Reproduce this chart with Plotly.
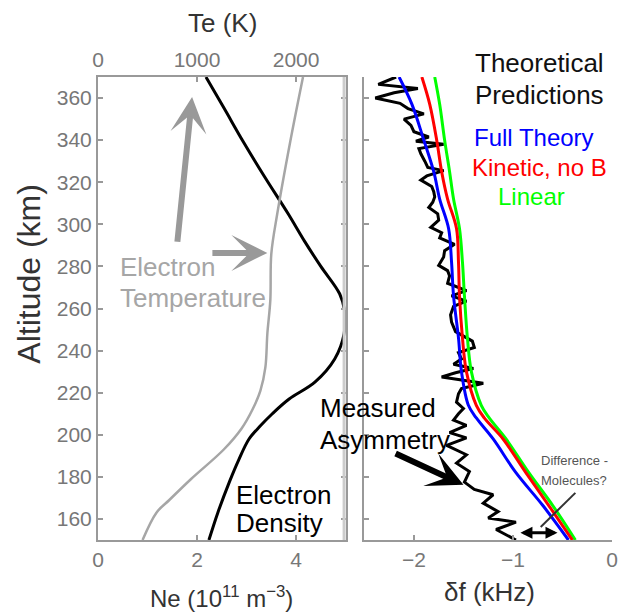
import plotly.graph_objects as go

# ---- Electron density profile (left panel, bottom axis) ----
ne_alt = [370, 355, 339, 322, 305, 292, 280, 267, 259, 248, 236, 225, 217, 210, 204, 198, 188, 178, 163, 150]
ne_val = [2.18, 2.55, 2.94, 3.38, 3.84, 4.17, 4.50, 4.88, 4.98, 4.97, 4.78, 4.38, 3.86, 3.52, 3.27, 3.05, 2.84, 2.66, 2.42, 2.24]

# ---- Electron temperature profile (left panel, top axis) ----
te_alt = [370, 339, 305, 286, 264, 248, 232, 221, 212, 203, 193, 179, 169, 163, 150]
te_val = [2070, 1940, 1810, 1750, 1740, 1710, 1690, 1640, 1560, 1450, 1270, 940, 720, 590, 450]

# ---- Theoretical predictions of the frequency asymmetry (right panel) ----
th_alt = [370, 357, 340, 325, 312, 298, 282, 266, 246, 230, 214, 208, 198, 182, 166.5, 150]
full_theory = [-2.15, -2.02, -1.90, -1.80, -1.74, -1.65, -1.62, -1.60, -1.55, -1.52, -1.45, -1.37, -1.20, -0.97, -0.70, -0.44]
kinetic_no_b = [-1.92, -1.84, -1.77, -1.72, -1.66, -1.57, -1.55, -1.54, -1.51, -1.47, -1.37, -1.29, -1.10, -0.87, -0.64, -0.40]
linear = [-1.79, -1.74, -1.69, -1.64, -1.60, -1.54, -1.51, -1.49, -1.46, -1.42, -1.32, -1.24, -1.07, -0.84, -0.60, -0.37]

# ---- Measured asymmetry ----
meas_alt = [370.0, 368.5, 366.5, 364.5, 362.5, 360.0, 357.5, 355.0, 352.5, 350.0, 347.0, 344.0,
            341.5, 339.5, 338.0, 336.0, 333.5, 330.0, 327.0, 325.5, 323.0, 321.0, 318.0, 315.5,
            313.0, 310.5, 308.0, 305.0, 302.0, 298.5, 296.0, 293.5, 290.5, 287.5, 284.5, 280.5,
            278.0, 275.5, 272.0, 268.5, 266.0, 263.5, 261.0, 257.0, 253.5, 249.0, 244.5, 241.5,
            239.0, 236.0, 233.5, 231.5, 229.5, 227.5, 224.5, 222.0, 219.5, 215.5, 212.5, 210.0,
            207.0, 204.5, 201.0, 198.5, 195.0, 190.5, 186.5, 182.5, 177.5, 174.0, 171.5, 167.5,
            163.5, 160.5, 158.5, 155.0, 151.5, 150.0]
meas_val = [-2.18, -2.26, -2.36, -1.96, -2.20, -2.39, -2.14, -2.06, -1.90, -2.10, -2.03, -2.00,
            -1.85, -1.98, -1.70, -1.95, -1.93, -1.89, -1.86, -1.70, -1.87, -1.93, -1.82, -1.80,
            -1.79, -1.81, -1.85, -1.76, -1.75, -1.83, -1.72, -1.74, -1.59, -1.69, -1.70, -1.75,
            -1.66, -1.64, -1.66, -1.47, -1.62, -1.47, -1.60, -1.63, -1.62, -1.58, -1.41, -1.39,
            -1.55, -1.52, -1.60, -1.40, -1.58, -1.72, -1.30, -1.52, -1.55, -1.57, -1.50, -1.55,
            -1.60, -1.47, -1.64, -1.47, -1.67, -1.47, -1.57, -1.44, -1.49, -1.39, -1.20, -1.30,
            -1.15, -1.25, -0.97, -1.17, -1.04, -0.97]

alt_ticks = [160, 180, 200, 220, 240, 260, 280, 300, 320, 340, 360]
ne_ticks = [0, 2, 4]
te_ticks = [0, 1000, 2000]
df_ticks = [-2, -1, 0]

FONT = "Liberation Sans, Arial, sans-serif"
AXIS_GRAY = "#999999"
TICK_TXT = "#777777"
W, H = 630, 615
ML, MR, MT, MB = 98, 13, 77, 75
PW, PH = W - ML - MR, H - MT - MB


def px(xp):
    return (xp - ML) / PW


def py(yp):
    return (H - MB - yp) / PH


fig = go.Figure()

fig.add_trace(go.Scatter(x=te_val, y=te_alt, xaxis="x3", yaxis="y", mode="lines",
                         line=dict(color="#a6a6a6", width=2.5, shape="spline"), showlegend=False))
fig.add_trace(go.Scatter(x=ne_val, y=ne_alt, xaxis="x", yaxis="y", mode="lines",
                         line=dict(color="black", width=3, shape="spline"), showlegend=False))

fig.add_trace(go.Scatter(x=meas_val, y=meas_alt, xaxis="x2", yaxis="y2", mode="lines",
                         line=dict(color="black", width=3), showlegend=False))
fig.add_trace(go.Scatter(x=linear, y=th_alt, xaxis="x2", yaxis="y2", mode="lines",
                         line=dict(color="#00ff00", width=3, shape="spline"), showlegend=False))
fig.add_trace(go.Scatter(x=kinetic_no_b, y=th_alt, xaxis="x2", yaxis="y2", mode="lines",
                         line=dict(color="#ff0000", width=3, shape="spline"), showlegend=False))
fig.add_trace(go.Scatter(x=full_theory, y=th_alt, xaxis="x2", yaxis="y2", mode="lines",
                         line=dict(color="#0000ff", width=3, shape="spline"), showlegend=False))

axis_common = dict(ticks="inside", ticklen=5, tickwidth=1.5, tickcolor=AXIS_GRAY,
                   showline=True, linecolor=AXIS_GRAY, linewidth=2, showgrid=False,
                   zeroline=False, tickfont=dict(family=FONT, size=21, color=TICK_TXT))

left_dom = [0, 250 / PW]
right_dom = [269 / PW, 1]

fig.update_layout(
    width=W, height=H,
    margin=dict(l=ML, r=MR, t=MT, b=MB),
    paper_bgcolor="white", plot_bgcolor="white",
    font=dict(family=FONT),
    xaxis=dict(domain=left_dom, range=[0, 5], anchor="y", tickvals=ne_ticks, **axis_common),
    xaxis3=dict(overlaying="x", side="top", range=[0, 2500], anchor="y", tickvals=te_ticks,
                **axis_common),
    yaxis=dict(domain=[0, 1], range=[150, 370], anchor="x", tickvals=alt_ticks,
               mirror="ticks", **axis_common),
    xaxis2=dict(domain=right_dom, range=[-2.5, 0], anchor="y2", tickvals=df_ticks, **axis_common),
    yaxis2=dict(domain=[0, 1], range=[150, 370], anchor="x2", tickvals=alt_ticks,
                showticklabels=False, **axis_common),
)

# light grey right border of the profile panel
fig.add_shape(type="line", xref="x", yref="y", x0=5, x1=5, y0=150, y1=370,
              line=dict(color="#cccccc", width=6), layer="above")

# connector from the "Difference" note to the gap at the bottom
fig.add_shape(type="line", xref="x2", yref="y2", x0=-0.37, y0=172.4, x1=-0.72, y1=156.2,
              line=dict(color="#333333", width=2))


def label(text, xp, yp, size=26, color="black", xanchor="center", angle=0):
    fig.add_annotation(text=text, x=px(xp), y=py(yp), xref="paper", yref="paper",
                       showarrow=False, xanchor=xanchor, yanchor="middle", textangle=angle,
                       font=dict(family=FONT, size=size, color=color))


# axis titles
label("Te (K)", 224, 23, color="#333333")
label("Ne (10<sup>11</sup> m<sup>\u22123</sup>)", 223, 597, size=24, color="#333333")
label("\u03b4f (kHz)", 493, 592, color="#333333")
label("Altitude (km)", 28, 274, size=32, color="#333333", angle=-90)

# in-plot labels
label("Electron", 118, 267, color="#a6a6a6", xanchor="left")
label("Temperature", 118, 298, color="#a6a6a6", xanchor="left")
label("Electron", 235, 495, xanchor="left")
label("Density", 235, 523, xanchor="left")
label("Measured", 320, 408, xanchor="left")
label("Asymmetry", 320, 440, xanchor="left")
label("Theoretical", 544, 63, color="#111111")
label("Predictions", 544, 95, color="#111111")
label("Full Theory", 538, 137, size=24, color="#0000ff")
label("Kinetic, no B", 544, 167, size=24, color="#ff0000")
label("Linear", 536, 196, size=24, color="#00ff00")
label("Difference -", 543, 460, size=13, color="#555555", xanchor="left")
label("Molecules?", 543, 480, size=13, color="#555555", xanchor="left")

# arrows
fig.add_annotation(x=1.90, y=360.5, ax=1.60, ay=291, xref="x", yref="y", axref="x", ayref="y",
                   text="", showarrow=True, arrowhead=3, arrowwidth=6, arrowsize=1,
                   arrowcolor="#999999")
fig.add_annotation(x=3.42, y=286.4, ax=2.28, ay=286.4, xref="x", yref="y", axref="x", ayref="y",
                   text="", showarrow=True, arrowhead=3, arrowwidth=6, arrowsize=1,
                   arrowcolor="#999999")
fig.add_annotation(x=-1.50, y=176.2, ax=-2.20, ay=191.4, xref="x2", yref="y2", axref="x2",
                   ayref="y2", text="", showarrow=True, arrowhead=3, arrowwidth=6, arrowsize=1,
                   arrowcolor="black")
fig.add_annotation(x=-0.55, y=153.4, ax=-0.94, ay=153.4, xref="x2", yref="y2", axref="x2",
                   ayref="y2", text="", showarrow=True, arrowside="end+start", arrowhead=2,
                   startarrowhead=2, arrowwidth=3, arrowsize=0.8, startarrowsize=0.8,
                   arrowcolor="black")

fig.write_html("out.html")
